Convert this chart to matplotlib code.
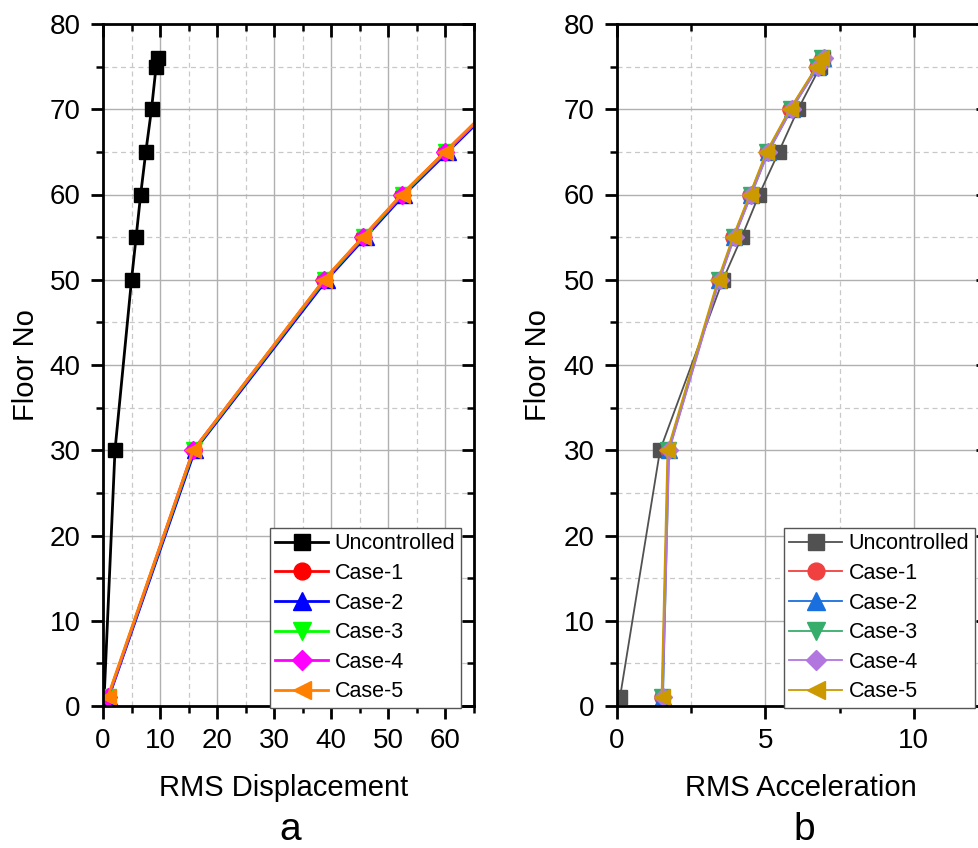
import matplotlib
matplotlib.use("Agg")
import matplotlib.pyplot as plt
from matplotlib.ticker import MultipleLocator

plt.rcParams['font.family'] = ['Liberation Sans', 'DejaVu Sans']

floors = [1, 30, 50, 55, 60, 65, 70, 75, 76]

# Panel a: RMS displacement
disp_unc = [0.2, 2.1, 5.0, 5.8, 6.6, 7.5, 8.5, 9.3, 9.6]
disp_c1 = [0.9, 15.9, 38.8, 45.6, 52.4, 60.0, 67.6, 75.0, 76.5]
disp_c2 = [1.0, 16.1, 39.2, 46.0, 52.8, 60.4, 68.0, 75.5, 77.0]
disp_c3 = [0.9, 15.9, 38.9, 45.7, 52.5, 60.1, 67.7, 75.1, 76.6]
disp_c4 = [0.9, 15.8, 38.8, 45.6, 52.4, 60.0, 67.6, 75.0, 76.5]
disp_c5 = [0.8, 15.8, 38.7, 45.5, 52.3, 59.9, 67.5, 74.9, 76.4]

# Panel b: RMS acceleration
acc_unc = [0.1, 1.45, 3.57, 4.2, 4.79, 5.45, 6.1, 6.85, 6.95]
acc_c1 = [1.52, 1.72, 3.42, 3.92, 4.48, 5.05, 5.83, 6.73, 6.9]
acc_c2 = [1.55, 1.75, 3.45, 3.95, 4.52, 5.1, 5.88, 6.78, 6.95]
acc_c3 = [1.52, 1.73, 3.43, 3.93, 4.5, 5.07, 5.85, 6.75, 6.92]
acc_c4 = [1.54, 1.76, 3.46, 3.96, 4.53, 5.1, 5.88, 6.78, 6.96]
acc_c5 = [1.5, 1.7, 3.4, 3.9, 4.47, 5.03, 5.82, 6.72, 6.88]

labels = ['Uncontrolled', 'Case-1', 'Case-2', 'Case-3', 'Case-4', 'Case-5']
markers = ['s', 'o', '^', 'v', 'D', '<']
msizes = [10.5, 11, 11.5, 11.5, 9.5, 11.5]
colors_a = ['#000000', '#FF0000', '#0000FF', '#00FF00', '#FF00FF', '#FF8000']
colors_b = ['#515151', '#F14040', '#1A6FDF', '#37AD6B', '#B177DE', '#CC9900']

fig = plt.figure(figsize=(9.79, 8.48), dpi=100)

ax1 = fig.add_axes([103/979, 1-706/848, 371/979, 682/848])
ax2 = fig.add_axes([617/979, 1-706/848, 371/979, 682/848])


def style(ax, xmaj, xmin, xlim):
    ax.set_xlim(*xlim)
    ax.set_ylim(0, 80)
    ax.xaxis.set_major_locator(MultipleLocator(xmaj))
    ax.xaxis.set_minor_locator(MultipleLocator(xmin))
    ax.yaxis.set_major_locator(MultipleLocator(10))
    ax.yaxis.set_minor_locator(MultipleLocator(5))
    ax.grid(True, which='major', color='#b0b0b0', linewidth=1.0, linestyle='-')
    ax.grid(True, which='minor', color='#c8c8c8', linewidth=0.9, linestyle=(0, (4, 3)))
    ax.set_axisbelow(True)
    for s in ax.spines.values():
        s.set_linewidth(2.0)
    ax.tick_params(which='major', direction='out', length=9, width=2, labelsize=20, pad=7)
    ax.tick_params(which='minor', direction='out', length=5, width=1.8)
    ax.tick_params(which='both', top=True, right=True)
    # top/right ticks inward
    for t in ax.xaxis.get_major_ticks() + ax.xaxis.get_minor_ticks():
        t.tick2line.set_marker(3)
    for t in ax.yaxis.get_major_ticks() + ax.yaxis.get_minor_ticks():
        t.tick2line.set_marker(0)


style(ax1, 10, 5, (0, 65))
style(ax2, 5, 2.5, (0, 12.5))

series_a = [disp_unc, disp_c1, disp_c2, disp_c3, disp_c4, disp_c5]
series_b = [acc_unc, acc_c1, acc_c2, acc_c3, acc_c4, acc_c5]

for vals, lab, m, ms, c in zip(series_a, labels, markers, msizes, colors_a):
    ax1.plot(vals, floors, color=c, marker=m, markersize=ms, linewidth=2.0,
             markeredgecolor=c, label=lab, clip_on=True)
for vals, lab, m, ms, c in zip(series_b, labels, markers, msizes, colors_b):
    ax2.plot(vals, floors, color=c, marker=m, markersize=ms, linewidth=1.3,
             markeredgecolor=c, label=lab, clip_on=True)

for ax, bb in ((ax1, (270, 528)), (ax2, (784, 528))):
    leg = ax.legend(loc='upper left', bbox_to_anchor=(bb[0]/979, 1-bb[1]/848),
                    bbox_transform=fig.transFigure, fontsize=15.5, frameon=True,
                    fancybox=False, edgecolor='#555555', framealpha=1,
                    handlelength=2.45, handletextpad=0.3, labelspacing=0.4,
                    borderpad=0.25, borderaxespad=0, markerscale=1.1)
    leg.get_frame().set_linewidth(1.0)

fig.text(26/979, 1-365/848, 'Floor No', fontsize=21, rotation=90, ha='center', va='center')
fig.text(538/979, 1-365/848, 'Floor No', fontsize=21, rotation=90, ha='center', va='center')
fig.text(284/979, 1-796/848, 'RMS Displacement', fontsize=21, ha='center', va='baseline')
fig.text(801/979, 1-796/848, 'RMS Acceleration', fontsize=21, ha='center', va='baseline')
fig.text(290/979, 1-847.5/848, 'a', fontsize=28, ha='center', va='bottom')
fig.text(804/979, 1-847.5/848, 'b', fontsize=28, ha='center', va='bottom')

fig.savefig('out.png', dpi=100)
